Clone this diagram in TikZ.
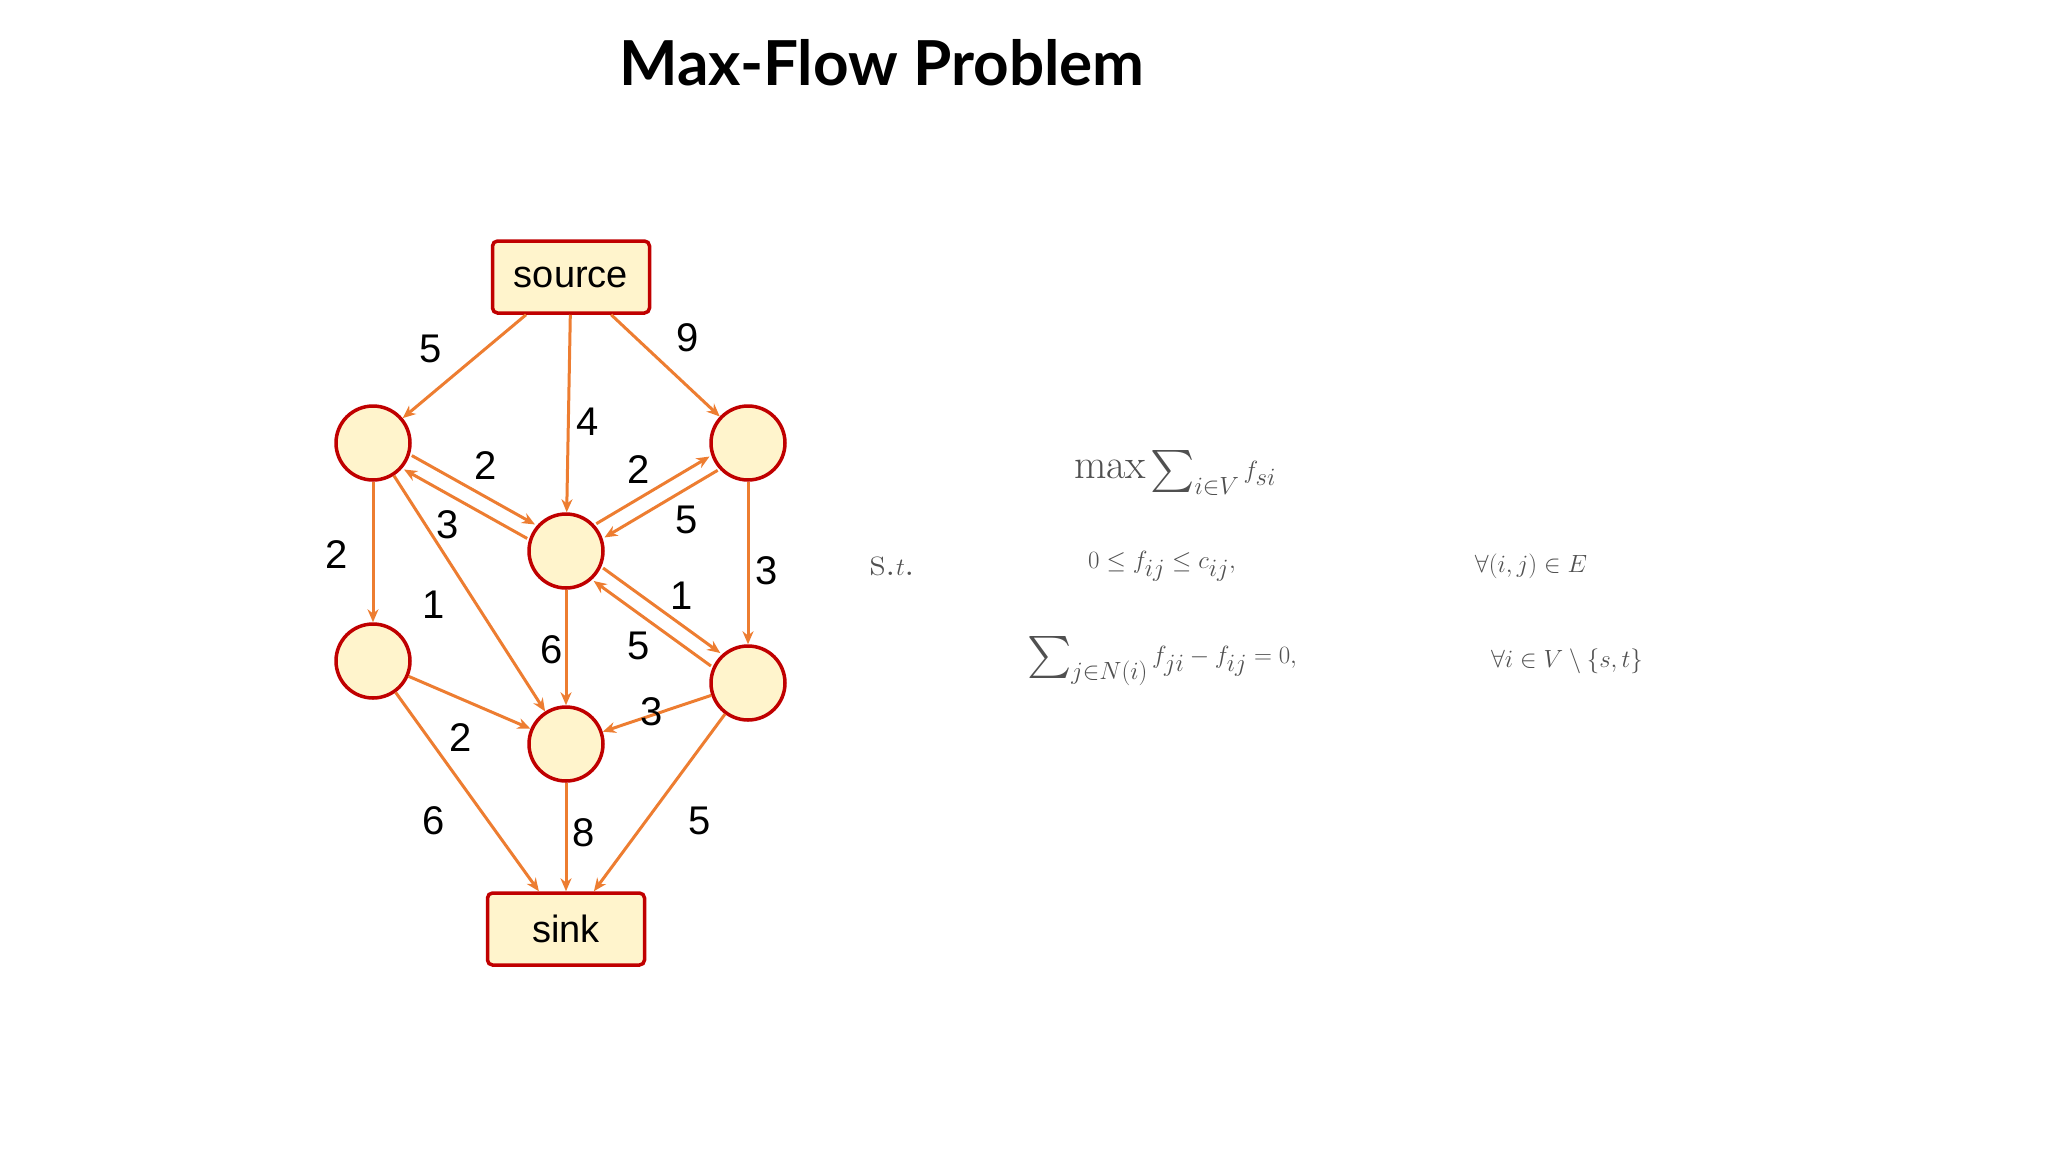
\documentclass[tikz,border=0pt]{standalone}
\usepackage{fontspec}
\usepackage{amsmath,amssymb}
\usetikzlibrary{arrows.meta,calc}
\newfontfamily\titlefont{Lato}
\newfontfamily\labfont{Liberation Sans}
\definecolor{nfill}{RGB}{255,244,204}
\definecolor{nborder}{RGB}{192,0,0}
\definecolor{eorange}{RGB}{237,125,49}
\definecolor{fgray}{RGB}{80,80,80}
\begin{document}
\begin{tikzpicture}[x=1pt,y=-1pt,
  vert/.style={circle,draw=nborder,fill=nfill,line width=3.5pt,minimum size=74pt,inner sep=0pt},
  term/.style={rectangle,rounded corners=5pt,draw=nborder,fill=nfill,line width=3.5pt,minimum width=157pt,minimum height=72pt,font=\labfont\fontsize{38}{40}\selectfont},
  edge/.style={draw=eorange,line width=3pt,-{Stealth[length=13pt,width=11pt]}},
  lab/.style={font=\labfont\fontsize{40}{44}\selectfont,inner sep=0pt},
  frm/.style={text=fgray,font=\fontsize{42}{46}\selectfont,inner sep=0pt}]
\useasboundingbox (0,0) rectangle (2048,1152);
\node[font=\titlefont\bfseries\fontsize{62}{66}\selectfont] (title) at (882,63) {Max-Flow Problem};
\node[term] (source) at (571,277) {source};
\node[term] (sink) at (566,929) {sink};
\node[vert] (A) at (373,443) {};
\node[vert] (B) at (748,443) {};
\node[vert] (C) at (566,551) {};
\node[vert] (D) at (373,661) {};
\node[vert] (E) at (748,683) {};
\node[vert] (F) at (566,744) {};
\draw[edge] (source) -- (A);
\draw[edge] (source) -- (C);
\draw[edge] (source) -- (B);
\draw[edge] (A) -- (D);
\draw[edge] (A) -- (F);
\draw[edge] (C) -- (F);
\draw[edge] (B) -- (E);
\draw[edge] (D) -- (F);
\draw[edge] (E) -- (F);
\draw[edge] (D) -- (sink);
\draw[edge] (F) -- (sink);
\draw[edge] (E) -- (sink);
% paired edges
\foreach \p/\q in {C/A,A/C,C/B,B/C,C/E,E/C}{
  \path ($(\p)!40pt!(\q)$) coordinate (s1) ($(\q)!40pt!(\p)$) coordinate (e1);
  \draw[edge] ($(s1)!8pt!90:(\q)$) -- ($(e1)!8pt!-90:(\p)$);
}
\node[lab] (l1) at (431,349) {5};
\node[lab] (l2) at (588,422) {4};
\node[lab] (l3) at (688,338) {9};
\node[lab] (l4) at (486,466) {2};
\node[lab] (l5) at (448,525) {3};
\node[lab] (l6) at (639,470) {2};
\node[lab] (l7) at (687,520) {5};
\node[lab] (l8) at (337,555) {2};
\node[lab] (l9) at (434,605) {1};
\node[lab] (l10) at (552,650) {6};
\node[lab] (l11) at (639,646) {5};
\node[lab] (l12) at (682,596) {1};
\node[lab] (l13) at (767,571) {3};
\node[lab] (l14) at (461,738) {2};
\node[lab] (l15) at (652,712) {3};
\node[lab] (l16) at (434,821) {6};
\node[lab] (l17) at (584,833) {8};
\node[lab] (l18) at (700,821) {5};
\node[frm] (obj) at (1175,473) {$\max\sum_{i\in V} f_{si}$};
\node[frm] (st) at (893,566) {s.$t$.};
\node[frm] (c1) at (1162,566) {$0\le f_{ij}\le c_{ij},$};
\node[frm] (c1q) at (1531,566) {$\forall(i,j)\in E$};
\node[frm] (c2) at (1162,661) {$\sum_{j\in N(i)} f_{ji}-f_{ij}=0,$};
\node[frm] (c2q) at (1567,661) {$\forall i\in V\setminus\{s,t\}$};
\end{tikzpicture}
\end{document}
